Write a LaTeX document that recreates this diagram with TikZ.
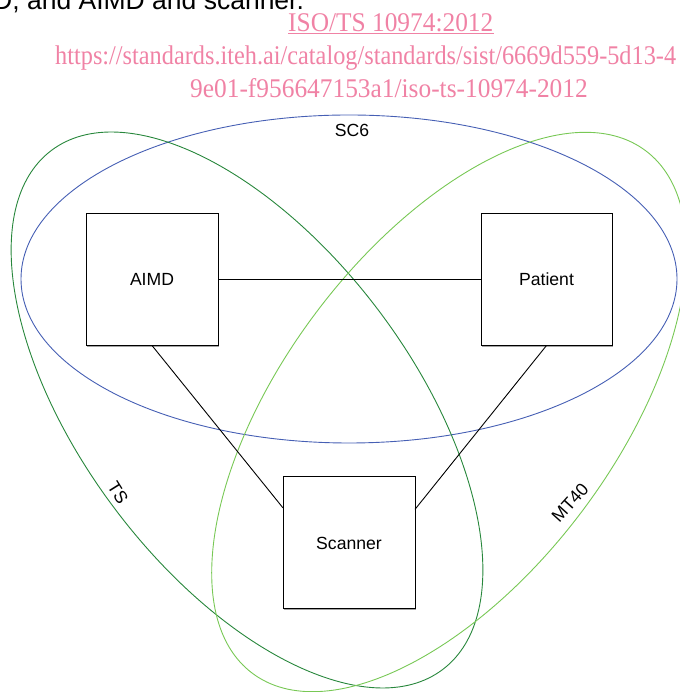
\documentclass[tikz,border=0pt]{standalone}
\usepackage{fontspec}
\setmainfont{Liberation Sans}
\newfontfamily\linkfont[FakeStretch=0.9]{Liberation Serif}
\newfontfamily\linkfontwide[FakeStretch=0.94]{Liberation Serif}
\usetikzlibrary{calc,shadows}

\definecolor{scblue}{RGB}{70,95,180}
\definecolor{tsgreen}{RGB}{40,135,60}
\definecolor{mtgreen}{RGB}{120,200,85}
\definecolor{linkpink}{RGB}{240,130,165}

\tikzset{
  unitbox/.style={draw=black, line width=1pt, fill=white, inner sep=0pt, outer sep=0pt,
    minimum width=132pt, minimum height=132pt,
    font=\fontsize{17.6}{20}\selectfont,
    drop shadow={shadow xshift=1.2pt, shadow yshift=-1.2pt, fill=black!45, opacity=0.8}},
  link/.style={draw=black, line width=0.9pt},
  committee/.style={line width=0.9pt},
  setlabel/.style={inner sep=0pt, font=\fontsize{17.6}{20}\selectfont},
  headtext/.style={inner sep=0pt, anchor=base west, font=\fontsize{26.5}{30}\selectfont},
  pinktext/.style={inner sep=0pt, anchor=base west, text=linkpink, font=\linkfont\fontsize{27}{30}\selectfont},
  pinkwide/.style={pinktext, font=\linkfontwide\fontsize{27}{30}\selectfont}
}

\begin{document}
\begin{tikzpicture}[x=1pt, y=1pt]
  \useasboundingbox (0,0) rectangle (679,692);

  % running text and reference lines at the top
  \node[headtext] (head) at (-7,682) {D, and AIMD and scanner.};
  \node[pinkwide] (ref1) at (288,660.3) {ISO/TS 10974:2012};
  \draw[linkpink, line width=1pt] ($(ref1.base west)+(0,-1.8)$) -- ($(ref1.base east)+(0,-1.8)$);
  \node[pinktext] (ref2) at (55,627.3) {https://standards.iteh.ai/catalog/standards/sist/6669d559-5d13-4};
  \node[pinkwide] (ref3) at (190,594.3) {9e01-f956647153a1/iso-ts-10974-2012};

  % committee scopes
  \draw[committee, scblue] (349,413) ellipse [x radius=328, y radius=164];
  \draw[committee, tsgreen] (247,282) ellipse [x radius=325, y radius=165, rotate=-53];
  \draw[committee, mtgreen] (449,280) ellipse [x radius=327, y radius=166, rotate=53];

  \node[setlabel] (sc6) at (352,562) {SC6};
  \node[setlabel, rotate=-58] (ts) at (118,199) {TS};
  \node[setlabel, rotate=48] (mt40) at (570,189) {MT40};

  % parties
  \node[unitbox] (aimd) at (152,412.5) {AIMD};
  \node[unitbox, minimum width=131pt] (patient) at (546.5,412.5) {Patient};
  \node[unitbox] (scanner) at (349,149) {Scanner};

  % interactions
  \draw[link] (aimd.east) -- (patient.west);
  \draw[link] (aimd.south) -- (scanner.152.7);
  \draw[link] (patient.south) -- (scanner.27.3);
\end{tikzpicture}
\end{document}
